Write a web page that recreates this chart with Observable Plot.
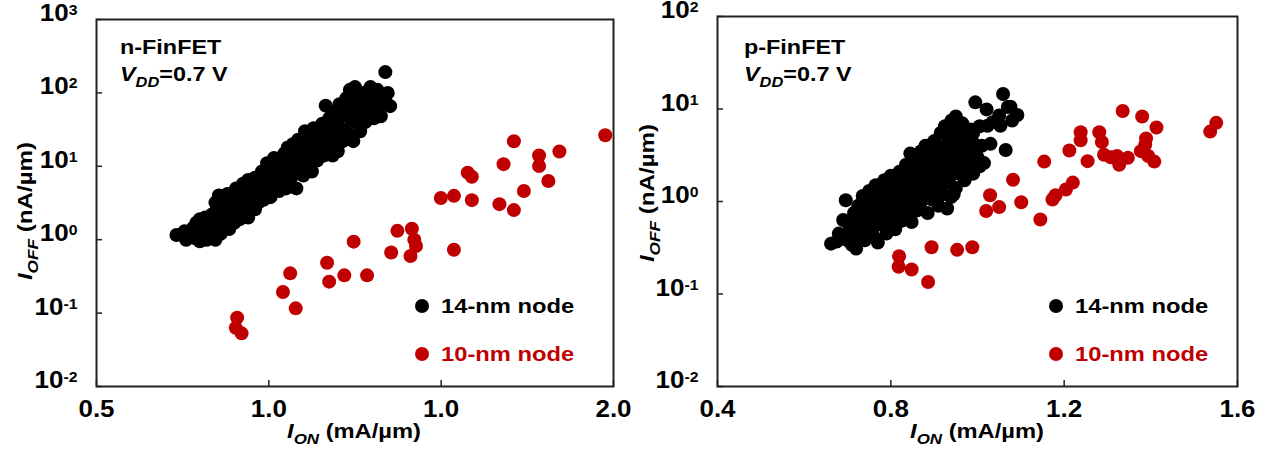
<!DOCTYPE html>
<html>
<head>
<meta charset="utf-8">
<script src="https://cdn.jsdelivr.net/npm/d3@7"></script>
<script src="https://cdn.jsdelivr.net/npm/@observablehq/plot@0.6"></script>
<style>
  body { margin: 0; background: #fff; overflow: hidden; }
  #wrap { position: relative; width: 1267px; height: 450px; }
  #wrap svg { position: absolute; top: 0; }
</style>
</head>
<body>
<div id="wrap"></div>
<script>
// Technology nodes and their colours
const nodes = ["14-nm node", "10-nm node"];
const nodeColors = ["#000000", "#C00000"];

// n-FinFET, 14-nm node: [I_ON (mA/µm), I_OFF (nA/µm)]
const n14 = [
  [0.732,1.16],[0.755,1.3],[0.77,1.2],[0.78,1.45],[0.785,1.05],[0.79,1.7],[0.795,1.3],[0.80,0.95],
  [0.80,1.9],[0.805,1.15],[0.81,1.55],[0.815,2.0],[0.82,1.0],[0.82,1.3],[0.825,1.75],[0.83,1.1],
  [0.835,2.2],[0.84,1.45],[0.845,3.2],[0.845,1.0],[0.85,2.6],[0.85,1.7],[0.855,4.0],[0.86,1.2],
  [0.86,2.1],[0.865,3.0],[0.87,1.55],[0.87,3.6],[0.875,2.4],[0.88,1.8],[0.88,4.2],[0.885,1.4],
  [0.89,2.9],[0.895,2.0],[0.90,3.5],[0.90,1.7],[0.905,5.0],[0.91,2.5],[0.915,1.9],[0.915,4.6],
  [0.92,3.0],[0.925,5.8],[0.93,2.3],[0.935,2.8],[0.94,6.5],[0.94,2.0],[0.95,4.8],[0.95,3.0],
  [0.955,5.5],[0.96,2.6],[0.96,7.0],[0.965,4.0],[0.97,3.2],[0.975,6.0],[0.98,8.5],[0.98,4.6],
  [0.985,3.5],[0.99,6.8],[0.995,11],[1.0,5.0],[1.0,9.0],[1.005,3.8],[1.01,7.5],[1.015,13],
  [1.02,6.0],[1.025,10],[1.03,4.6],[1.03,8.0],[1.035,12],[1.04,6.5],[1.045,15],[1.05,9.5],
  [1.05,5.0],[1.055,18],[1.06,11],[1.065,7.0],[1.07,14],[1.07,20],[1.075,8.5],[1.08,12],
  [1.08,5.0],[1.085,23],[1.09,10],[1.095,16],[1.10,7.5],[1.10,13],[1.105,30],[1.11,19],
  [1.115,10],[1.12,25],[1.12,14],[1.125,8.5],[1.13,33],[1.135,20],[1.14,12],[1.145,28],
  [1.15,17],[1.155,38],[1.16,22],[1.16,14],[1.165,67],[1.17,30],[1.175,45],[1.18,19],
  [1.18,35],[1.185,14],[1.19,55],[1.195,26],[1.20,40],[1.20,16],[1.205,70],[1.21,32],
  [1.215,22],[1.22,50],[1.225,85],[1.23,28],[1.23,60],[1.235,110],[1.24,40],[1.245,22],
  [1.25,75],[1.25,120],[1.255,45],[1.26,95],[1.265,30],[1.27,60],[1.275,100],[1.28,40],
  [1.285,80],[1.29,55],[1.295,120],[1.30,70],[1.305,45],[1.31,90],[1.315,110],[1.32,65],
  [1.325,48],[1.33,85],[1.338,192],[1.34,75],[1.345,100],[1.352,66],
  [0.76,1.0],[0.81,1.25],[0.87,2.0],[0.925,3.8],[0.945,3.3],[0.99,5.5],[1.04,9.0],[1.09,13],
  [1.14,20],[1.19,30],[1.24,55],[1.29,85],[1.11,11],[1.06,8.0],[0.96,4.5],[0.905,2.2]
];

// n-FinFET, 10-nm node
const n10 = [
  [1.976,26.5],[1.711,21.9],[1.784,14.0],[1.843,15.9],[1.784,10.1],[1.681,10.7],[1.811,6.3],
  [1.577,8.2],[1.589,7.2],[1.740,4.6],[1.499,3.7],[1.537,3.96],[1.589,3.46],[1.669,3.05],
  [1.711,2.53],[1.373,1.32],[1.415,1.41],[1.422,1.0],[1.427,0.82],[1.355,0.67],[1.411,0.60],
  [1.537,0.73],[1.246,0.94],[1.169,0.485],[1.175,0.268],[1.219,0.327],[1.285,0.327],
  [1.062,0.348],[1.041,0.194],[1.078,0.116],[0.908,0.0867],[0.904,0.063],[0.921,0.053]
];

// p-FinFET, 14-nm node
const p14 = [
  [0.662,0.35],[0.675,0.37],[0.685,0.40],[0.69,0.63],[0.696,1.03],[0.70,0.45],[0.705,0.55],
  [0.71,0.34],[0.715,0.75],[0.72,0.31],[0.72,0.48],[0.725,0.9],[0.73,0.6],[0.735,1.15],
  [0.74,0.38],[0.74,0.8],[0.745,0.52],[0.75,1.3],[0.755,0.95],[0.76,0.42],[0.76,0.68],
  [0.765,1.5],[0.77,0.36],[0.77,1.1],[0.775,0.58],[0.78,0.85],[0.785,1.7],[0.79,0.45],
  [0.79,1.25],[0.795,0.7],[0.80,1.9],[0.80,0.55],[0.805,1.0],[0.81,0.5],[0.81,1.45],
  [0.815,0.78],[0.82,2.1],[0.82,1.15],[0.825,0.62],[0.83,1.7],[0.83,0.9],[0.835,2.5],
  [0.84,1.3],[0.84,0.72],[0.845,3.3],[0.848,0.6],[0.85,2.0],[0.855,1.1],[0.86,2.8],[0.86,0.8],
  [0.865,1.6],[0.87,3.5],[0.87,1.0],[0.875,2.3],[0.88,1.3],[0.88,4.0],[0.885,0.75],[0.89,1.8],
  [0.89,3.0],[0.895,1.05],[0.90,4.5],[0.90,2.4],[0.905,1.4],[0.91,0.9],[0.91,3.5],[0.915,5.5],
  [0.92,2.0],[0.92,1.2],[0.925,6.5],[0.925,3.0],[0.93,0.84],[0.93,4.2],[0.935,1.6],[0.94,7.5],
  [0.94,2.5],[0.939,1.12],[0.945,5.0],[0.95,3.3],[0.95,1.4],[0.955,6.0],[0.96,2.0],[0.96,4.0],
  [0.965,7.0],[0.97,2.8],[0.97,1.7],[0.975,5.0],[0.98,3.5],[0.985,2.3],[0.99,4.3],[0.995,11.8],
  [1.0,3.0],[1.005,6.5],[1.01,4.0],[1.015,2.6],[1.021,9.9],[1.03,4.2],[1.035,7.2],[1.05,8.5],
  [1.053,6.6],[1.059,14.5],[1.065,3.6],[1.07,10.5],[1.076,10.6],[1.08,7.5],[1.092,8.6],
  [0.72,0.7],[0.75,0.6],[0.78,1.0],[0.80,0.75],[0.83,1.2],[0.85,1.5],[0.87,2.0],[0.88,2.6],
  [0.90,3.2],[0.91,2.2],[0.93,3.6],[0.95,4.5],[0.97,3.8],[0.99,5.5],[0.86,1.3],[0.82,0.95],
  [0.79,0.58],[0.76,0.8],[0.92,1.6],[0.96,2.4],[0.95,8.3],[1.023,6.6],[0.99,2.0],
  [0.68,0.45],[0.70,0.38],[0.71,0.62],[0.725,0.42],[0.735,0.75],[0.745,0.95],[0.75,0.45],
  [0.755,1.15],[0.765,0.55],[0.77,0.85],[0.775,1.3],[0.785,0.65],[0.79,0.95],[0.795,1.5],
  [0.805,0.65],[0.805,1.25],[0.815,1.7],[0.815,1.0],[0.825,1.4],[0.835,0.8],[0.835,1.9],
  [0.845,1.15],[0.845,2.3],[0.855,1.8],[0.855,0.9],[0.865,2.4],[0.865,1.15],[0.875,1.6],
  [0.875,3.0],[0.885,2.0],[0.885,1.1],[0.895,2.7],[0.895,1.5],[0.905,1.9],[0.905,3.9],
  [0.915,2.6],[0.915,1.3],[0.925,2.3],[0.935,3.0],[0.935,5.0],[0.945,2.0],[0.945,1.2],
  [0.955,3.6],[0.965,2.2],[0.965,5.5],[0.975,3.0],[0.985,4.0],[0.985,6.0],[0.995,3.4],
  [1.005,2.4],[0.975,1.9]
];

// p-FinFET, 10-nm node
const p10 = [
  [1.551,7.08],[1.537,5.7],[1.335,9.5],[1.380,8.3],[1.413,6.3],[1.238,5.6],[1.238,4.6],
  [1.281,5.6],[1.287,4.4],[1.389,4.8],[1.387,4.1],[1.377,3.5],[1.212,3.56],[1.254,2.73],
  [1.292,3.2],[1.308,3.0],[1.322,3.1],[1.327,2.5],[1.347,2.97],[1.394,3.1],[1.408,2.7],
  [1.154,2.7],[1.220,1.6],[1.204,1.35],[1.180,1.17],[1.173,1.05],[1.082,1.72],[1.029,1.17],
  [1.101,0.98],[1.020,0.79],[1.050,0.87],[1.145,0.64],[0.894,0.32],[0.953,0.30],[0.988,0.32],
  [0.819,0.256],[0.818,0.197],[0.848,0.184],[0.886,0.135]
];

// Axis ticks and their printed labels
const nXTicks = [0.5, 1.0, 1.5, 2.0];
const nXTickLabels = ["0.5", "1.0", "1.0", "2.0"];
const nYTicks = [1e-2, 1e-1, 1e0, 1e1, 1e2, 1e3];
const pXTicks = [0.4, 0.8, 1.2, 1.6];
const pXTickLabels = ["0.4", "0.8", "1.2", "1.6"];
const pYTicks = [1e-2, 1e-1, 1e0, 1e1, 1e2];

const FONT = "'Liberation Sans', Arial, Helvetica, sans-serif";
const STRETCH = 1.13;

// Widen a text element horizontally around its anchor point (optionally nudged down)
function widen(node, k = STRETCH, down = 0) {
  const x = +node.getAttribute("x") || 0;
  const y = (+node.getAttribute("y") || 0) + down;
  node.removeAttribute("x"); node.removeAttribute("y");
  const tr = node.getAttribute("transform") || "";
  node.setAttribute("transform", `${tr} translate(${x},${y}) scale(${k},1)`);
}

// Multi-part label with italic and subscript pieces
function label(svg, {x, y, rotate = 0, anchor = "start", size, fill = "#000", k = STRETCH, parts}) {
  const t = d3.select(svg).append("text")
    .attr("transform", `translate(${x},${y})` + (rotate ? ` rotate(${rotate})` : "") + ` scale(${k},1)`)
    .attr("text-anchor", anchor)
    .attr("font-family", FONT)
    .attr("font-weight", "bold")
    .attr("font-size", size)
    .attr("fill", fill);
  let shift = 0;
  for (const p of parts) {
    const s = t.append("tspan").text(p.t);
    if (p.italic) s.attr("font-style", "italic");
    const target = p.sub ? Math.round(size * 0.3) : 0;
    if (target !== shift) { s.attr("dy", target - shift); shift = target; }
    if (p.sub) s.attr("font-size", Math.round(size * 0.72));
  }
}

function panel({device, pts14, pts10, xDomain, xTicks, xLabels, yDomain, yTicks,
                width, left, ml, mr, mt, mb, yTitle, xTitleX, legendX, textX}) {
  const height = 450;
  const frameW = width - ml - mr;
  const frameH = height - mt - mb;
  const data = [
    ...pts14.map(([x, y]) => ({x, y, node: nodes[0]})),
    ...pts10.map(([x, y]) => ({x, y, node: nodes[1]}))
  ];
  const svg = Plot.plot({
    width, height,
    marginLeft: ml, marginRight: mr, marginTop: mt, marginBottom: mb,
    style: {fontFamily: FONT, fontWeight: "bold", background: "transparent", overflow: "visible", color: "#000"},
    x: {domain: xDomain},
    y: {type: "log", domain: yDomain},
    color: {domain: nodes, range: nodeColors},
    marks: [
      Plot.dot(data, {x: "x", y: "y", fill: "node", r: 7}),
      Plot.tickY(yTicks, {y: d => d, insetRight: frameW - 6, stroke: "#222", strokeWidth: 1.5}),
      Plot.tickX(xTicks, {x: d => d, insetTop: frameH - 6, stroke: "#222", strokeWidth: 1.5}),
      Plot.frame({stroke: "#222", strokeWidth: 2}),
      Plot.axisY({ticks: yTicks, tickSize: 0, tickPadding: 19, fontSize: 23, label: null,
                  tickFormat: d => String(Math.round(Math.log10(d)))}),
      Plot.axisX({ticks: xTicks, tickSize: 0, tickPadding: 30, fontSize: 23, label: null,
                  tickFormat: d => xLabels[xTicks.findIndex(t => Math.abs(t - d) < 1e-9)]})
    ]
  });
  svg.style.left = left + "px";
  document.getElementById("wrap").appendChild(svg);

  // powers of ten with raised exponents
  d3.select(svg).selectAll('g[aria-label="y-axis tick label"] text').each(function() {
    const t = d3.select(this);
    const exp = t.text();
    t.text("10");
    t.append("tspan").attr("dy", -6).attr("font-size", 14).text(exp);
    widen(this, STRETCH, 1.5);
  });
  d3.select(svg).selectAll('g[aria-label="x-axis tick label"] text').each(function() { widen(this); });

  // device and supply annotation
  label(svg, {x: textX, y: 54, size: 20, k: 1.17, parts: [{t: device}]});
  label(svg, {x: textX, y: 81, size: 20, k: 1.17, parts: [
    {t: "V", italic: true}, {t: "DD", italic: true, sub: true}, {t: "=0.7 V"}
  ]});

  // legend
  nodes.forEach((n, i) => {
    d3.select(svg).append("circle")
      .attr("cx", legendX).attr("cy", 306 + i * 48).attr("r", 7).attr("fill", nodeColors[i]);
    label(svg, {x: legendX + 19, y: 313 + i * 48, size: 21, fill: nodeColors[i], parts: [{t: n}]});
  });

  // axis titles
  label(svg, {x: yTitle[0], y: yTitle[1], rotate: -90, anchor: "middle", size: 21, k: 1.15, parts: [
    {t: "I", italic: true}, {t: "OFF", italic: true, sub: true}, {t: " (nA/µm)"}
  ]});
  label(svg, {x: xTitleX, y: 438, anchor: "middle", size: 21, k: 1.13, parts: [
    {t: "I", italic: true}, {t: "ON", italic: true, sub: true}, {t: " (mA/µm)"}
  ]});
}

panel({
  device: "n-FinFET", pts14: n14, pts10: n10,
  xDomain: [0.5, 2.0], xTicks: nXTicks, xLabels: nXTickLabels,
  yDomain: [1e-2, 1e3], yTicks: nYTicks,
  width: 630, left: 0, ml: 96, mr: 17, mt: 19, mb: 64,
  yTitle: [32, 211], xTitleX: 354, legendX: 422, textX: 120
});

panel({
  device: "p-FinFET", pts14: p14, pts10: p10,
  xDomain: [0.4, 1.6], xTicks: pXTicks, xLabels: pXTickLabels,
  yDomain: [1e-2, 1e2], yTicks: pYTicks,
  width: 637, left: 630, ml: 87, mr: 30, mt: 16, mb: 64,
  yTitle: [24, 193], xTitleX: 347, legendX: 426, textX: 114
});
</script>
</body>
</html>
